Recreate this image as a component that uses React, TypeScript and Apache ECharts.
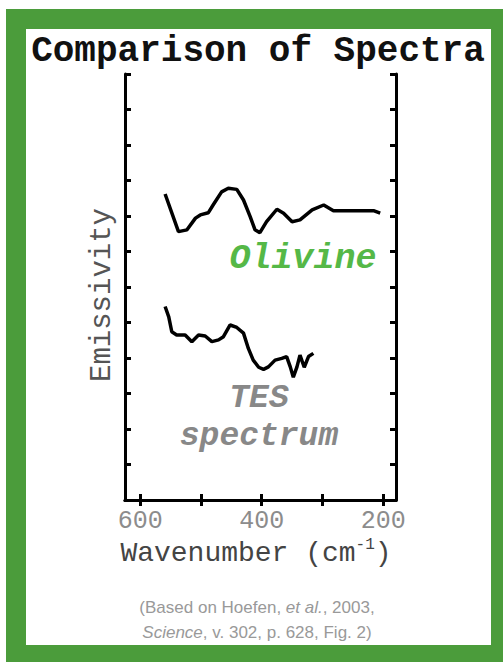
import React, { useEffect, useRef } from "react";
import * as echarts from "echarts";

const olivineWavenumber = [559, 537, 523, 509, 501, 488, 480, 466, 455, 441, 430, 419, 411, 403, 392, 375, 364, 350, 337, 317, 298, 282, 216, 205];
const olivineEmissivity = [8.62, 7.56, 7.61, 7.94, 8.03, 8.09, 8.31, 8.68, 8.78, 8.75, 8.45, 7.98, 7.61, 7.53, 7.84, 8.19, 8.08, 7.84, 7.89, 8.17, 8.31, 8.15, 8.15, 8.08];

const tesWavenumber = [559, 553, 548, 540, 526, 515, 504, 493, 482, 471, 463, 452, 441, 430, 422, 414, 405, 397, 389, 378, 367, 359, 353, 348, 342, 337, 330, 323, 315];
const tesEmissivity = [5.45, 5.16, 4.74, 4.65, 4.65, 4.46, 4.65, 4.62, 4.46, 4.51, 4.6, 4.93, 4.86, 4.7, 4.27, 3.94, 3.74, 3.68, 3.75, 3.94, 3.99, 4.04, 3.75, 3.46, 3.75, 4.08, 3.74, 4.04, 4.13];

const xTicks = [200, 300, 400, 500, 600];
const xTickLabels = [200, 400, 600];

const MONO = "'Liberation Mono', 'DejaVu Sans Mono', monospace";
const SANS = "'Liberation Sans', Arial, sans-serif";

export default function App() {
  const ref = useRef<HTMLDivElement>(null);
  useEffect(() => {
    if (!ref.current) return;
    const chart = echarts.init(ref.current, null, { renderer: "svg" });
    const axisLine = { show: true, lineStyle: { color: "#000", width: 3 } };
    const tick = { show: true, inside: true, length: 6, lineStyle: { color: "#000", width: 3 } };
    chart.setOption({
      animation: false,
      backgroundColor: "#fff",
      grid: { left: 125, top: 74, width: 271, height: 426, containLabel: false },
      xAxis: [
        {
          type: "value",
          inverse: true,
          min: 179,
          max: 625,
          position: "bottom",
          axisLine,
          axisTick: { ...tick, customValues: xTicks },
          splitLine: { show: false },
          axisLabel: {
            customValues: xTickLabels,
            color: "#8c8c8c",
            fontFamily: MONO,
            fontSize: 25,
            margin: 9,
          },
        },
        {
          type: "value",
          inverse: true,
          min: 179,
          max: 625,
          position: "top",
          axisLine,
          axisTick: { ...tick, customValues: xTicks },
          splitLine: { show: false },
          axisLabel: { show: false },
        },
      ],
      yAxis: [
        {
          type: "value",
          min: 0,
          max: 12,
          interval: 1,
          position: "left",
          axisLine,
          axisTick: tick,
          splitLine: { show: false },
          axisLabel: { show: false },
        },
        {
          type: "value",
          min: 0,
          max: 12,
          interval: 1,
          position: "right",
          axisLine,
          axisTick: tick,
          splitLine: { show: false },
          axisLabel: { show: false },
        },
      ],
      series: [
        {
          type: "line",
          name: "Olivine",
          data: olivineWavenumber.map((w, i) => [w, olivineEmissivity[i]]),
          showSymbol: false,
          symbol: "none",
          lineStyle: { color: "#000", width: 3.5 },
          z: 5,
        },
        {
          type: "line",
          name: "TES spectrum",
          data: tesWavenumber.map((w, i) => [w, tesEmissivity[i]]),
          showSymbol: false,
          symbol: "none",
          lineStyle: { color: "#000", width: 3.5 },
          z: 5,
        },
      ],
      graphic: [
        { type: "rect", z: -10, shape: { x: 6, y: 9, width: 497, height: 653 }, style: { fill: "#4b9c3b" } },
        { type: "rect", z: -9, shape: { x: 26, y: 29, width: 465, height: 616 }, style: { fill: "#fff" } },
        {
          type: "text",
          x: 258,
          y: 51,
          style: { text: "Comparison of Spectra", fontFamily: MONO, fontWeight: "bold", fontSize: 36, fill: "#111", align: "center", verticalAlign: "middle" },
        },
        {
          type: "text",
          x: 102,
          y: 295,
          rotation: Math.PI / 2,
          style: { text: "Emissivity", fontFamily: MONO, fontSize: 29, fill: "#555", align: "center", verticalAlign: "middle" },
        },
        {
          type: "text",
          x: 256,
          y: 552,
          style: {
            text: "{m|Wavenumber (cm}{s|-1}{m|)}",
            align: "center",
            verticalAlign: "middle",
            rich: {
              m: { fontFamily: MONO, fontSize: 28, fill: "#444", lineHeight: 30, verticalAlign: "bottom" },
              s: { fontFamily: MONO, fontSize: 16, fill: "#444", lineHeight: 16, verticalAlign: "top" },
            },
          },
        },
        {
          type: "text",
          x: 303,
          y: 259,
          style: { text: "Olivine", fontFamily: MONO, fontWeight: "bold", fontStyle: "italic", fontSize: 35, fill: "#55b847", align: "center", verticalAlign: "middle" },
        },
        {
          type: "text",
          x: 259,
          y: 417,
          style: {
            text: "TES\nspectrum",
            fontFamily: MONO,
            fontWeight: "bold",
            fontStyle: "italic",
            fontSize: 33,
            lineHeight: 38,
            fill: "#888",
            align: "center",
            verticalAlign: "middle",
          },
        },
        {
          type: "text",
          x: 257,
          y: 607,
          style: {
            text: "{n|(Based on Hoefen, }{i|et al.}{n|, 2003,}",
            align: "center",
            verticalAlign: "middle",
            rich: {
              n: { fontFamily: SANS, fontSize: 17, fill: "#999" },
              i: { fontFamily: SANS, fontSize: 17, fontStyle: "italic", fill: "#999" },
            },
          },
        },
        {
          type: "text",
          x: 257,
          y: 632,
          style: {
            text: "{i|Science}{n|, v. 302, p. 628, Fig. 2)}",
            align: "center",
            verticalAlign: "middle",
            rich: {
              n: { fontFamily: SANS, fontSize: 17, fill: "#999" },
              i: { fontFamily: SANS, fontSize: 17, fontStyle: "italic", fill: "#999" },
            },
          },
        },
      ],
    });
    return () => chart.dispose();
  }, []);
  return (
    <div
      ref={ref}
      style={{ position: "absolute", left: 0, top: 0, width: 503, height: 662 }}
    />
  );
}
